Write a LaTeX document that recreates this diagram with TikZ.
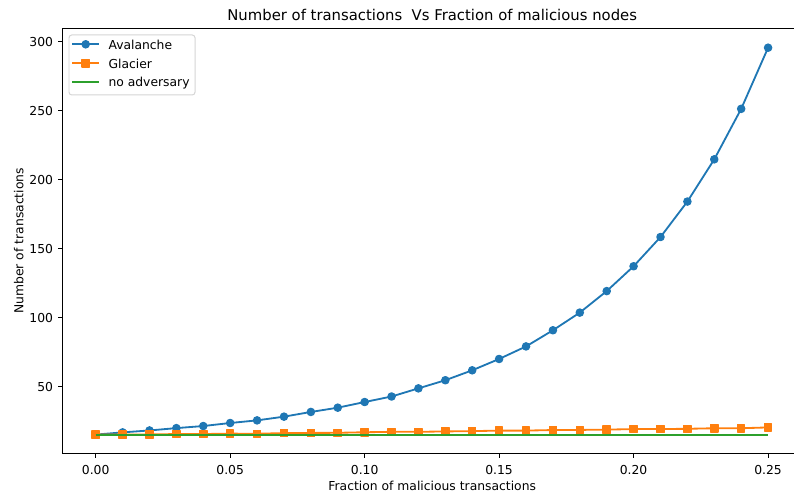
\documentclass[tikz,border=0pt]{standalone}
\usepackage{fontspec}
\setmainfont{DejaVu Sans}
\usetikzlibrary{plotmarks}

\definecolor{avablue}{HTML}{1F77B4}
\definecolor{glaorange}{HTML}{FF7F0E}
\definecolor{advgreen}{HTML}{2CA02C}
\definecolor{legedge}{HTML}{D5D5D5}

\tikzset{
  spine/.style={line width=0.9pt, line cap=rect},
  tickmark/.style={line width=0.9pt},
  ticklab/.style={inner sep=0pt, font=\fontsize{11.15}{13}\selectfont},
  labtext/.style={inner sep=0pt, font=\fontsize{11.15}{13}\selectfont},
  avaline/.style={avablue, line width=1.65pt, line join=round, mark=*, mark size=3.3pt,
    mark options={line width=1.1pt, fill=avablue, draw=avablue}},
  glaline/.style={glaorange, line width=1.65pt, line join=round, mark=square*, mark size=3.3pt,
    mark options={line width=1.1pt, fill=glaorange, draw=glaorange}},
  advline/.style={advgreen, line width=1.65pt},
}

\begin{document}
\begin{tikzpicture}[x=0.0125in, y=0.0125in]
  \useasboundingbox (0,0) rectangle (794,496);

  \begin{scope}[shift={(95.7,40.3)}, x=33.61in, y=0.01725in]
    % axes frame
    \coordinate (sw) at (-0.0123,1.45);
    \coordinate (ne) at (0.2625,309.9);
    \draw[spine] (sw) rectangle (ne);

    % ticks
    \foreach \xv/\xl [count=\i] in {0/0.00,0.05/0.05,0.1/0.10,0.15/0.15,0.2/0.20,0.25/0.25}{
      \draw[tickmark] (\xv,1.45) -- ++(0,-3.9pt);
      \node[ticklab, anchor=base] (xt\i) at ([yshift=-18.6pt]\xv,1.45) {\xl};
    }
    \foreach \yv [count=\i] in {50,100,...,300}{
      \draw[tickmark] (-0.0123,\yv) -- ++(-3.9pt,0);
      \node[ticklab, anchor=east] (yt\i) at ([xshift=-8.5pt]-0.0123,\yv) {\yv};
    }

    % data
    \draw[avaline] plot coordinates {(0,15.3) (0.01,16.9) (0.02,18.3) (0.03,20.0) (0.04,21.5)
      (0.05,23.7) (0.06,25.6) (0.07,28.3) (0.08,31.7) (0.09,34.8) (0.10,38.9) (0.11,42.9)
      (0.12,48.8) (0.13,54.7) (0.14,61.9) (0.15,70.1) (0.16,79.2) (0.17,90.9) (0.18,103.7)
      (0.19,119.3) (0.20,137.3) (0.21,158.5) (0.22,184.2) (0.23,214.8) (0.24,251.4) (0.25,295.7)};
    \draw[glaline] plot coordinates {(0,15.3) (0.01,15.3) (0.02,15.4) (0.03,15.7) (0.04,15.7)
      (0.05,16.0) (0.06,15.9) (0.07,16.4) (0.08,16.5) (0.09,16.6) (0.10,17.0) (0.11,17.3)
      (0.12,17.3) (0.13,17.6) (0.14,17.8) (0.15,18.2) (0.16,18.2) (0.17,18.6) (0.18,18.7)
      (0.19,18.9) (0.20,19.3) (0.21,19.3) (0.22,19.5) (0.23,19.9) (0.24,19.9) (0.25,20.5)};
    \draw[advline] (0,15.3) -- (0.25,15.3);
  \end{scope}

  % legend
  \draw[legedge, line width=0.9pt, rounded corners=2.5pt, fill=white, fill opacity=0.8]
    (69,401) rectangle (195,461);
  \draw[avaline, mark indices={2}] plot coordinates {(72.3,451.7) (85.7,451.7) (99,451.7)};
  \draw[glaline, mark indices={2}] plot coordinates {(72.3,432.7) (85.7,432.7) (99,432.7)};
  \draw[advline] (72.3,414.3) -- (99,414.3);
  \node[labtext, anchor=base west] (lgava) at (108.3,446.7) {Avalanche};
  \node[labtext, anchor=base west] (lggla) at (108.3,427.7) {Glacier};
  \node[labtext, anchor=base west] (lgadv) at (108.3,409.3) {no adversary};

  % title and axis labels
  \node[inner sep=0pt, font=\fontsize{13.4}{16}\selectfont, anchor=base] (title) at (432.2,475.3)
    {Number of transactions\ \ Vs Fraction of malicious nodes};
  \node[labtext, anchor=base] (xlab) at (432.2,6) {Fraction of malicious transactions};
  \node[labtext, anchor=base, rotate=90] (ylab) at (23.3,255.2) {Number of transactions};
\end{tikzpicture}
\end{document}
